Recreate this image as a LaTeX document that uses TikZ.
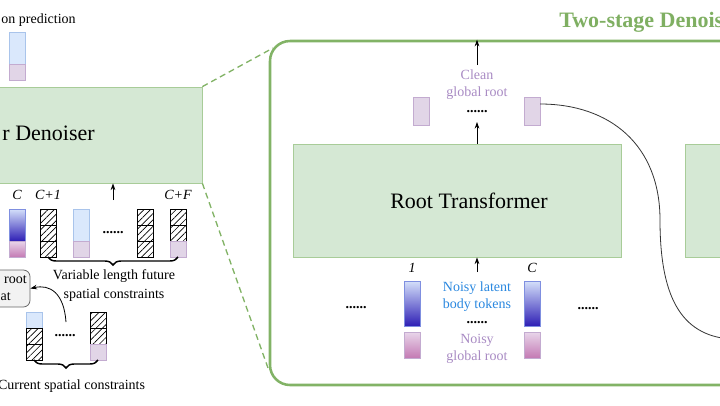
\documentclass[tikz,border=0pt]{standalone}
\usepackage{fontspec}
\setmainfont{Liberation Serif}
\usetikzlibrary{patterns.meta,decorations.pathreplacing,calc,arrows.meta}
\definecolor{gfill}{HTML}{D5E8D4}
\definecolor{gline}{HTML}{82B366}
\definecolor{gbline}{HTML}{A8CC98}
\definecolor{bfill}{HTML}{DAE8FC}
\definecolor{bline}{HTML}{A9C4EB}
\definecolor{pfill}{HTML}{E1D5E7}
\definecolor{pline}{HTML}{C3ABD0}
\definecolor{ptext}{HTML}{A98BC4}
\definecolor{btext}{HTML}{2A88E0}
\definecolor{gtitle}{HTML}{7FAF62}
\definecolor{btop}{HTML}{D4E0FA}
\definecolor{bbot}{HTML}{2E1FB5}
\definecolor{gbdraw}{HTML}{7F8FE0}
\definecolor{ptop}{HTML}{E8D6EA}
\definecolor{pbot}{HTML}{C47AB4}
\definecolor{grayfill}{HTML}{F2F2F2}
\definecolor{grayline}{HTML}{666666}
\begin{document}
\begin{tikzpicture}[x=0.75pt,y=0.75pt,
  tok/.style={minimum width=12pt, inner sep=0pt, outer sep=0pt},
  hcell/.style={tok, draw=black, line width=0.6pt, minimum height=12pt,
    pattern={Lines[angle=45,distance=3.4pt,line width=0.5pt]}},
  bcell/.style={tok, fill=bfill, draw=bline, line width=0.6pt},
  pcell/.style={tok, fill=pfill, draw=pline, line width=0.6pt},
  gbcell/.style={tok, top color=btop, bottom color=bbot, draw=gbdraw, line width=0.6pt},
  gpcell/.style={tok, top color=ptop, bottom color=pbot, draw=pline, line width=0.6pt},
  small/.style={font=\fontsize{10.5}{13}\selectfont, inner sep=0pt},
  bigtxt/.style={font=\fontsize{16.5}{19}\selectfont, inner sep=0pt},
  gbox/.style={fill=gfill, draw=gbline, line width=0.6pt, inner sep=0pt},
  arr/.style={-{Stealth[length=5pt,width=3.5pt]}, line width=0.6pt},
  brc/.style={decorate, decoration={brace,mirror,amplitude=6pt}, line width=1.1pt},
  dotstxt/.style={font=\fontsize{10.5}{12}\selectfont\bfseries, inner sep=0pt},
  dashline/.style={draw=gline, line width=1pt, dash pattern=on 4.5pt off 3pt}
]
\useasboundingbox (0,0) rectangle (720,405);
\clip (0,0) rectangle (720,405);

% ---------- left part ----------
\node[small, anchor=east] (predtxt) at (76,385) {on prediction};
\node[bcell, minimum height=24pt] (pb) at (17,357) {};
\node[pcell, minimum height=12pt] (pp) at (17,333) {};

\node[gbox, minimum width=166.5pt, minimum height=72pt] (ld) at (91,270) {};
\node[bigtxt, anchor=east] (ldtxt) at (95,272) {r Denoiser};

\coordinate (la0) at (113,205);
\draw[arr] (la0) -- (la0 |- ld.south);

\node[small] (lC) at (17,210) {\textit{C}};
\node[small] (lC1) at (48,210) {\textit{C+1}};
\node[small] (lCF) at (178,210) {\textit{C+F}};

\node[gbcell, minimum height=24pt] (c1b) at (17,180) {};
\node[gpcell, minimum height=12pt] (c1p) at (17,156) {};
\node[hcell] (c2a) at (48,188) {};
\node[hcell] (c2b) at (48,172) {};
\node[hcell] (c2c) at (48,156) {};
\node[bcell, minimum height=24pt] (c3b) at (81,180) {};
\node[pcell, minimum height=12pt] (c3p) at (81,156) {};
\node[dotstxt] (ldots) at (113,172) {......};
\node[hcell] (c4a) at (145,188) {};
\node[hcell] (c4b) at (145,172) {};
\node[hcell] (c4c) at (145,156) {};
\node[hcell] (c5a) at (178,188) {};
\node[hcell] (c5b) at (178,172) {};
\node[pcell, minimum height=12pt] (c5p) at (178,156) {};

\draw[brc] (c2c.south) -- (c5p.south);
\node[small, align=center, font=\fontsize{10.5}{14.25}\selectfont] (vtxt) at (114,119.5) {Variable length future\\spatial constraints};

\node[fill=grayfill, draw=grayline, line width=0.6pt, rounded corners=5pt,
  minimum width=37.5pt, minimum height=27.75pt, inner sep=0pt] (gb) at (5,116.5) {};
\node[small, anchor=east] (gbt1) at (27,125) {root};
\node[small, anchor=east] (gbt2) at (11,108) {at};

\node[bcell, minimum height=12pt] (a1) at (34,85) {};
\node[hcell] (a2) at (34,69) {};
\node[hcell] (a3) at (34,53) {};
\node[hcell] (b1) at (98,85) {};
\node[hcell] (b2) at (98,69) {};
\node[pcell, minimum height=12pt] (b3) at (98,53) {};
\node[dotstxt] (bdots) at (65,69) {......};
\draw[brc] (a3.south) -- (b3.south);
\node[small] (cur) at (71.5,19) {Current spatial constraints};

\coordinate (cs) at (66,83);
\draw[arr] (cs) .. controls (64,112) and (50,121) .. (gb.east);

% ---------- right part ----------
\node[draw=gline, line width=1.9pt, fill=white, rounded corners=15pt,
  minimum width=367.5pt, minimum height=258pt, inner sep=0pt] (big) at (515,192) {};
\coordinate (dt) at (273,357);
\coordinate (db) at (268,37);
\draw[dashline] (ld.north east) -- (dt);
\draw[dashline] (ld.south east) -- (db);

\node[font=\fontsize{16.5}{19}\selectfont\bfseries, text=gtitle, anchor=west, inner sep=0pt] (title) at (559,383) {Two-stage Denoiser};

\coordinate (ta) at (477,340);
\draw[arr] (ta) -- (ta |- big.north);
\node[small, text=ptext, align=center] (clean) at (477,320.5) {Clean\\global root};
\node[pcell, minimum height=21pt] (pl) at (421,294) {};
\node[pcell, minimum height=21pt] (pr) at (532,294) {};
\node[dotstxt] (tdots) at (477,293) {......};

\node[gbox, minimum width=246pt, minimum height=84.75pt] (rt) at (457,204.5) {};
\node[bigtxt] (rtl) at (469,204) {Root Transformer};
\node[gbox, minimum width=71.25pt, minimum height=84.75pt] (g2) at (732.5,204.5) {};

\coordinate (rta) at (477,283);
\draw[arr] (rta |- rt.north) -- (rta);

\node[small] (r1) at (412,137) {\textit{1}};
\node[small] (rC) at (532,137) {\textit{C}};
\coordinate (rba) at (477,133);
\draw[arr] (rba) -- (rba |- rt.south);

\node[gbcell, minimum height=33.75pt] (t1b) at (412,101.5) {};
\node[gpcell, minimum height=19.5pt] (t1p) at (412,60) {};
\node[gbcell, minimum height=33.75pt] (t2b) at (532,101.5) {};
\node[gpcell, minimum height=19.5pt] (t2p) at (532,60) {};
\node[small, text=btext, align=center] (nl) at (477,108.5) {Noisy latent\\body tokens};
\node[dotstxt] (mdots) at (477,82) {......};
\node[small, text=ptext, align=center] (ng) at (477,56) {Noisy\\global root};
\node[dotstxt] (lfdots) at (356,97) {......};
\node[dotstxt] (rgdots) at (588,96) {......};

\coordinate (cend) at (730,66);
\draw[line width=0.6pt, black!80] ($(pr.east)+(0,7)$) .. controls (610,301) and (660,260) .. (660,185)
  .. controls (660,110) and (680,70) .. (cend);
\end{tikzpicture}
\end{document}
